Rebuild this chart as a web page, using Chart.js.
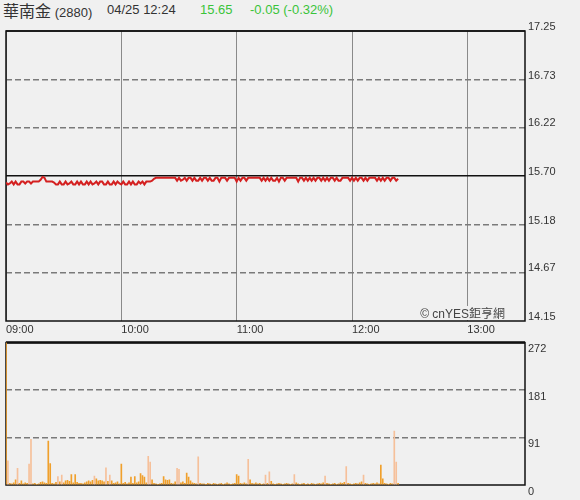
<!DOCTYPE html>
<html>
<head>
<meta charset="utf-8">
<script src="https://cdn.jsdelivr.net/npm/chart.js@4/dist/chart.umd.min.js"></script>
<style>
    body { margin: 0; background: #f0f0f0; width: 580px; height: 500px; overflow: hidden; position: relative; font-family: "Liberation Sans", Arial, sans-serif; }
    .hdr { position: absolute; top: 0; height: 20px; line-height: 20px; font-size: 13px; color: #333; white-space: nowrap; }
    .name { font-family: "Noto Sans CJK TC", sans-serif; font-size: 16px; }
    .up { color: #3ac43a; }
    #priceBox { position: absolute; left: 0; top: 20px; width: 580px; height: 320px; }
    #volBox { position: absolute; left: 0; top: 333px; width: 580px; height: 167px; }
</style>
</head>
<body>
<div class="hdr" style="left:3px"><span class="name">華南金</span> (2880)</div>
<div class="hdr" style="left:107px">04/25 12:24</div>
<div class="hdr up" style="left:200px">15.65</div>
<div class="hdr up" style="left:250px">-0.05 (-0.32%)</div>
<div id="priceBox"><canvas id="priceChart"></canvas></div>
<div id="volBox"><canvas id="volChart"></canvas></div>
<script>
// du lieu: phut tinh tu 09:00
var timeTicks = [0, 60, 120, 180, 240];
var timeLabels = ["09:00", "10:00", "11:00", "12:00", "13:00"];
var priceTicks = [14.15, 14.67, 15.18, 15.70, 16.22, 16.73, 17.25];
var prevClose = 15.70;
var volTicks = [0, 91, 181, 272];

var prices = [
    15.63,15.61,15.62,15.64,15.61,15.64,15.61,15.61,15.64,15.64,
    15.62,15.64,15.64,15.62,15.64,15.64,15.64,15.64,15.66,15.69,
    15.68,15.64,15.64,15.64,15.64,15.63,15.61,15.61,15.64,15.61,
    15.61,15.64,15.61,15.62,15.64,15.61,15.61,15.64,15.61,15.64,
    15.61,15.61,15.64,15.61,15.64,15.61,15.62,15.64,15.61,15.64,
    15.64,15.61,15.61,15.64,15.61,15.61,15.64,15.61,15.64,15.62,
    15.61,15.64,15.61,15.61,15.64,15.61,15.64,15.61,15.61,15.64,
    15.62,15.64,15.61,15.64,15.64,15.64,15.65,15.67,15.68,15.68,
    15.68,15.68,15.68,15.68,15.68,15.68,15.68,15.68,15.68,15.65,
    15.68,15.65,15.66,15.68,15.65,15.68,15.68,15.65,15.68,15.65,
    15.65,15.68,15.65,15.68,15.68,15.65,15.68,15.65,15.65,15.68,
    15.68,15.64,15.68,15.68,15.68,15.65,15.68,15.68,15.68,15.68,
    15.64,15.68,15.65,15.68,15.68,15.65,15.68,15.68,15.68,15.68,
    15.68,15.68,15.68,15.65,15.68,15.65,15.68,15.65,15.68,15.65,
    15.65,15.68,15.64,15.68,15.68,15.65,15.68,15.68,15.68,15.68,
    15.68,15.68,15.64,15.68,15.68,15.65,15.68,15.65,15.68,15.65,
    15.68,15.65,15.68,15.68,15.65,15.68,15.65,15.68,15.65,15.68,
    15.68,15.65,15.68,15.65,15.65,15.68,15.68,15.68,15.68,15.65,
    15.68,15.65,15.68,15.65,15.68,15.68,15.65,15.68,15.65,15.68,
    15.68,15.68,15.68,15.65,15.68,15.65,15.68,15.65,15.68,15.68,
    15.65,15.68,15.68,15.65,15.67
];

var volumes = [
    272,46,3,2,4,10,32,3,8,2,
    4,3,40,87,2,3,1,2,5,6,
    4,3,84,41,3,2,5,16,6,19,
    4,8,9,7,20,4,20,5,3,3,
    2,4,6,8,6,9,17,12,8,9,
    8,6,33,7,19,8,3,4,6,2,
    40,3,5,2,4,15,3,16,4,6,
    22,18,15,4,55,44,10,3,2,1,
    2,3,16,10,9,10,3,2,6,32,
    30,4,6,3,23,15,8,4,3,2,
    54,3,2,2,1,3,2,1,3,2,
    1,2,3,1,2,4,2,1,2,3,
    20,17,3,2,4,2,49,10,3,2,
    4,2,3,1,2,19,3,25,7,2,
    1,2,3,2,1,2,3,2,1,2,
    20,4,2,1,2,3,1,2,1,3,
    2,1,2,3,2,4,17,3,2,1,
    2,3,1,2,4,3,5,35,3,2,
    1,2,3,2,4,6,19,3,2,1,
    2,3,2,4,2,38,12,3,2,1,
    3,2,103,44,3
];

// cac phut co mau nhat
var lightMinutes = [1, 6, 12, 13, 27, 29, 46, 52, 54, 74, 75, 89, 90, 100, 126, 135, 137, 150, 166, 177, 186, 202, 203];

var labelFont = { family: "'Liberation Sans', Arial, sans-serif", size: 11 };

function frameBorder(width, topWidth) {
    return {
        id: 'frame',
        beforeDatasetsDraw: function(chart) {
            var a = chart.chartArea, c = chart.ctx;
            c.save();
            c.strokeStyle = '#111';
            c.lineWidth = width;
            c.strokeRect(a.left, a.top, a.right - a.left, a.bottom - a.top);
            c.lineWidth = topWidth;
            c.beginPath();
            c.moveTo(a.left, a.top);
            c.lineTo(a.right, a.top);
            c.stroke();
            c.restore();
        }
    };
}

var watermark = {
    id: 'watermark',
    afterDraw: function(chart) {
        var a = chart.chartArea, c = chart.ctx;
        var txt = "© cnYES鉅亨網";
        c.save();
        c.font = "12px 'Liberation Sans', 'Noto Sans CJK TC', sans-serif";
        var w = c.measureText(txt).width;
        c.fillStyle = '#f0f0f0';
        c.fillRect(a.right - 21 - w, a.bottom - 15, w + 2, 14);
        c.fillStyle = '#444';
        c.textAlign = 'right';
        c.textBaseline = 'alphabetic';
        c.fillText(txt, a.right - 20, a.bottom - 3);
        c.restore();
    }
};

var pricePoints = prices.map(function(p, i) { return { x: i, y: p }; });

new Chart(document.getElementById('priceChart'), {
    type: 'line',
    data: {
        datasets: [{
            data: pricePoints,
            borderColor: '#d42020',
            borderWidth: 2,
            pointRadius: 0,
            tension: 0
        }]
    },
    options: {
        responsive: true,
        maintainAspectRatio: false,
        animation: false,
        events: [],
        layout: { padding: { left: 6, top: 11, right: 0, bottom: 0 } },
        plugins: { legend: { display: false }, tooltip: { enabled: false } },
        scales: {
            x: {
                type: 'linear',
                min: 0,
                max: 270,
                afterBuildTicks: function(s) { s.ticks = timeTicks.map(function(v) { return { value: v }; }); },
                afterFit: function(s) { s.height = 19; },
                ticks: {
                    callback: function(v, i) { return timeLabels[i]; },
                    align: 'start',
                    padding: 2,
                    maxRotation: 0,
                    autoSkip: false,
                    color: '#333',
                    font: labelFont
                },
                grid: { color: '#8a8a8a', lineWidth: 1, drawTicks: false },
                border: { display: false }
            },
            y: {
                position: 'right',
                min: 14.15,
                max: 17.25,
                afterBuildTicks: function(s) { s.ticks = priceTicks.map(function(v) { return { value: v }; }); },
                afterFit: function(s) { s.width = 55; },
                ticks: {
                    callback: function(v, i) { return priceTicks[i].toFixed(2); },
                    padding: 3,
                    labelOffset: -4,
                    color: '#333',
                    font: labelFont
                },
                grid: {
                    drawTicks: false,
                    color: function(ctx) {
                        var v = priceTicks[ctx.index];
                        if (ctx.index === 0 || ctx.index === priceTicks.length - 1) return 'rgba(0,0,0,0)';
                        return v === prevClose ? '#111' : '#7a7a7a';
                    },
                    lineWidth: 1.5
                },
                border: {
                    display: false,
                    dash: function(ctx) { return priceTicks[ctx.index] === prevClose ? [] : [6, 3]; }
                }
            }
        }
    },
    plugins: [frameBorder(1.5, 1.5), watermark]
});

var volPoints = volumes.map(function(v, i) { return { x: i, y: v }; });
var volColors = volumes.map(function(v, i) { return lightMinutes.indexOf(i) >= 0 ? '#f6c09a' : '#f0a02c'; });

new Chart(document.getElementById('volChart'), {
    type: 'bar',
    data: {
        datasets: [{
            data: volPoints,
            backgroundColor: volColors,
            barThickness: 1,
            borderWidth: 0
        }]
    },
    options: {
        responsive: true,
        maintainAspectRatio: false,
        animation: false,
        events: [],
        layout: { padding: { left: 6, top: 9, right: 0, bottom: 15 } },
        plugins: { legend: { display: false }, tooltip: { enabled: false } },
        scales: {
            x: {
                type: 'linear',
                min: 0,
                max: 270,
                display: false,
                offset: false
            },
            y: {
                position: 'right',
                min: 0,
                max: 272,
                afterBuildTicks: function(s) { s.ticks = volTicks.map(function(v) { return { value: v }; }); },
                afterFit: function(s) { s.width = 55; },
                ticks: {
                    callback: function(v, i) { return String(volTicks[i]); },
                    padding: 3,
                    labelOffset: 6.5,
                    color: '#333',
                    font: labelFont
                },
                grid: {
                    drawTicks: false,
                    color: function(ctx) {
                        if (ctx.index === 0 || ctx.index === volTicks.length - 1) return 'rgba(0,0,0,0)';
                        return '#7a7a7a';
                    },
                    lineWidth: 1.5
                },
                border: { display: false, dash: [6, 3] }
            }
        }
    },
    plugins: [frameBorder(1.5, 2.5)]
});
</script>
</body>
</html>
